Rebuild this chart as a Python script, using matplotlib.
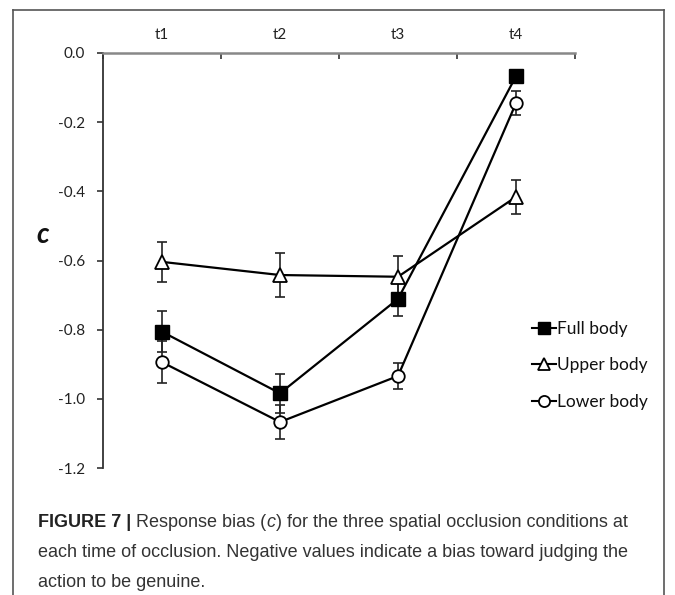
import numpy as np
import matplotlib
matplotlib.use("Agg")
import matplotlib.pyplot as plt
from matplotlib.legend_handler import HandlerLine2D
from matplotlib import font_manager as fm
from matplotlib.lines import Line2D

categories = ["t1", "t2", "t3", "t4"]
full_body = [-0.806, -0.984, -0.711, -0.067]
full_err = [0.060, 0.056, 0.050, 0.015]
upper_body = [-0.604, -0.642, -0.647, -0.416]
upper_err = [0.058, 0.063, 0.060, 0.050]
lower_body = [-0.894, -1.067, -0.934, -0.145]
lower_err = [0.060, 0.050, 0.038, 0.035]
yticks = [0.0, -0.2, -0.4, -0.6, -0.8, -1.0, -1.2]

avail = {f.name for f in fm.fontManager.ttflist}
tick_font = "Lato" if "Lato" in avail else "DejaVu Sans"
cap_font = "Liberation Sans Narrow" if "Liberation Sans Narrow" in avail else "Liberation Sans"

fig = plt.figure(figsize=(6.75, 5.95), dpi=100)
ax = fig.add_axes([103/675, 1-468/595, (575-103)/675, (468-53)/595])

x = np.arange(1, len(categories) + 1)
series = [
    ("Full body", full_body, full_err, dict(marker="s", mfc="black", mec="black", ms=9.5)),
    ("Upper body", upper_body, upper_err, dict(marker="^", mfc="white", mec="black", ms=10, mew=1.3)),
    ("Lower body", lower_body, lower_err, dict(marker="o", mfc="white", mec="black", ms=9, mew=1.3)),
]
handles = []
for name, vals, err, mk in series:
    ax.errorbar(x, vals, yerr=err, fmt="none", ecolor="#222222", elinewidth=1.2,
                capsize=3.5, capthick=1.2, zorder=2)
    ln, = ax.plot(x, vals, color="black", lw=1.6, zorder=3, label=name, **mk)
    handles.append(ln)

ax.set_xlim(0.5, 4.5)
ax.set_ylim(-1.2, 0.0)
ax.xaxis.tick_top()
ax.set_xticks(np.arange(0.5, 4.6, 1.0))
ax.set_xticklabels([])
ax.set_xticks(x, minor=True)
ax.set_xticklabels(categories, minor=True, fontsize=11, family=tick_font, color="#222222")
ax.tick_params(axis="x", which="minor", length=0, pad=8)
ax.tick_params(axis="x", which="major", direction="in", length=4, width=1.2, color="#333333")
ax.set_yticks(yticks)
ax.set_yticklabels([f"{v:.1f}" for v in yticks], fontsize=11, family=tick_font, color="#222222")
ax.tick_params(axis="y", direction="out", length=4, width=1.2, color="#333333", pad=9)
for s in ["right", "bottom"]:
    ax.spines[s].set_visible(False)
ax.spines["top"].set_color("#888888")
ax.spines["top"].set_linewidth(1.8)
ax.spines["left"].set_color("#333333")
ax.spines["left"].set_linewidth(1.3)

fig.text(43/675, 1-235/595, "c", fontsize=20, style="italic", weight="bold",
         family=tick_font, ha="center", va="center", color="#111111")

class RightMarkerHandler(HandlerLine2D):
    def get_xdata(self, legend, xdescent, ydescent, width, height, fontsize):
        xdata = np.array([-xdescent, -xdescent + width])
        return xdata, np.array([-xdescent + width * 0.8])

leg = ax.legend(handles=handles, loc="upper left", bbox_to_anchor=(516/675, 1-305/595),
                bbox_transform=fig.transFigure, frameon=False,
                prop={"family": tick_font, "size": 12.5}, handlelength=1.4,
                handletextpad=0.05, labelspacing=1.2,
                handler_map={h: RightMarkerHandler(numpoints=1) for h in handles})
for t in leg.get_texts():
    t.set_color("#111111")
for lh in leg.legend_handles:
    lh.set_markersize(8)
    lh.set_linewidth(1.5)

# figure frame (open at the bottom)
frame_c = "#555555"
fig.add_artist(Line2D([13/675, 13/675], [0, 1-10/595], transform=fig.transFigure, color=frame_c, lw=1.2))
fig.add_artist(Line2D([664/675, 664/675], [0, 1-10/595], transform=fig.transFigure, color=frame_c, lw=1.2))
fig.add_artist(Line2D([13/675, 664/675], [1-10/595, 1-10/595], transform=fig.transFigure, color=frame_c, lw=1.2))

# caption
fig.canvas.draw()
renderer = fig.canvas.get_renderer()
cap_size = 13
def place_runs(x0, y0, runs):
    xp = x0
    for txt, props in runs:
        t = fig.text(xp / 675, 1 - y0 / 595, txt, fontsize=cap_size, family=cap_font,
                     va="baseline", ha="left", color=props.get("color", "#333333"),
                     weight=props.get("weight", "normal"), style=props.get("style", "normal"))
        bb = t.get_window_extent(renderer=renderer)
        xp += bb.width
place_runs(38, 527, [("FIGURE 7 | ", {"weight": "bold", "color": "#222222"}),
                     ("Response bias (", {}), ("c", {"style": "italic"}),
                     (") for the three spatial occlusion conditions at", {})])
place_runs(38, 557, [("each time of occlusion. Negative values indicate a bias toward judging the", {})])
place_runs(38, 587, [("action to be genuine.", {})])

fig.savefig("out.png", dpi=100)
